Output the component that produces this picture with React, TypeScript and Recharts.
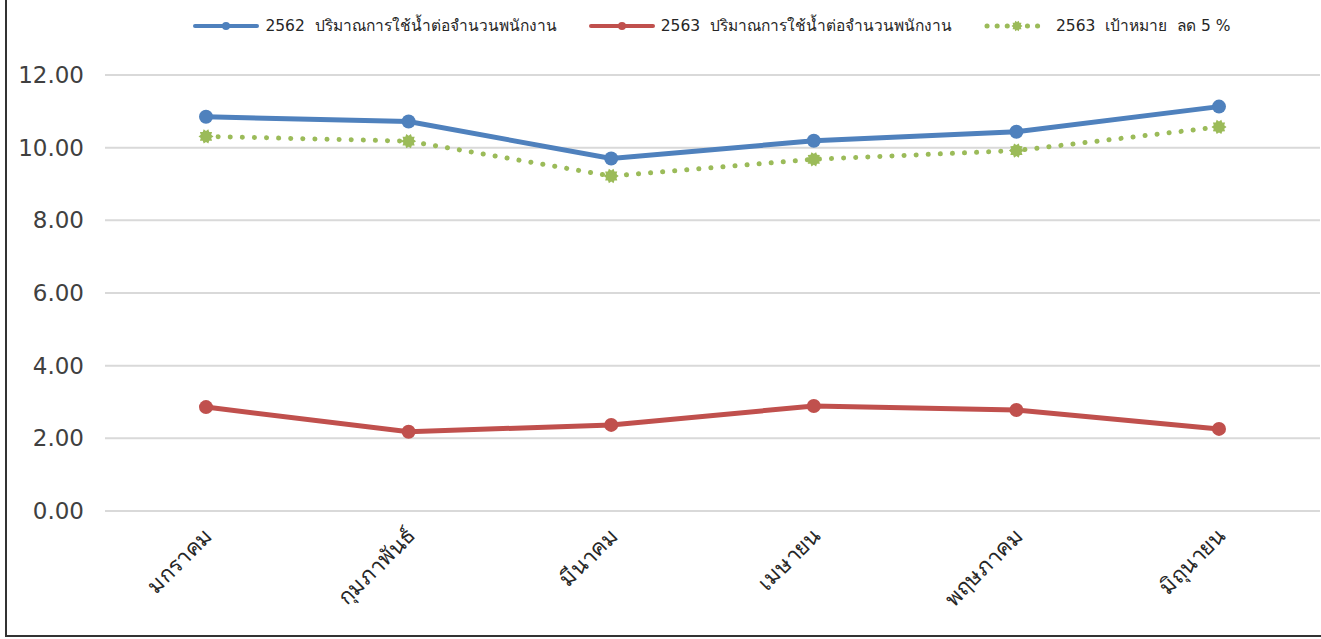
import React from 'react';
import {
    LineChart,
    Line,
    XAxis,
    YAxis,
    CartesianGrid,
} from 'recharts';

const MONTHS = ['มกราคม', 'กุมภาพันธ์', 'มีนาคม', 'เมษายน', 'พฤษภาคม', 'มิถุนายน'];
const USE_2562 = [10.85, 10.72, 9.7, 10.19, 10.44, 11.13];
const USE_2563 = [2.86, 2.18, 2.37, 2.89, 2.78, 2.26];
const TARGET_2563 = [10.31, 10.18, 9.22, 9.68, 9.92, 10.57];
const Y_TICKS = [0, 2, 4, 6, 8, 10, 12];

const NAME_2562 = '2562  ปริมาณการใช้น้ำต่อจำนวนพนักงาน';
const NAME_2563 = '2563  ปริมาณการใช้น้ำต่อจำนวนพนักงาน';
const NAME_TARGET = '2563  เป้าหมาย  ลด 5 %';

const BLUE = '#4f81bd';
const RED = '#c0504d';
const GREEN = '#9bbb59';
const FONT = "Tahoma, 'DejaVu Sans', sans-serif";

const data = MONTHS.map((m, i) => ({
    month: m,
    a: USE_2562[i],
    b: USE_2563[i],
    c: TARGET_2563[i],
}));

// ragged star marker for the target series
const starPoints = (cx: number, cy: number, r1: number, r2: number, n: number) => {
    const pts: string[] = [];
    for (let i = 0; i < n * 2; i++) {
        const r = i % 2 === 0 ? r1 : r2;
        const a = (Math.PI * i) / n;
        pts.push(`${cx + r * Math.cos(a)},${cy + r * Math.sin(a)}`);
    }
    return pts.join(' ');
};

const StarDot = (props: any) => {
    const { cx, cy } = props;
    if (cx == null || cy == null) return null;
    return <polygon points={starPoints(cx, cy, 7.5, 5.5, 10)} fill={GREEN} />;
};

const MonthTick = (props: any) => {
    const { x, y, payload } = props;
    return (
        <g transform={`translate(${x + 8},${y + 18})`}>
            <text
                transform="rotate(-45)"
                textAnchor="end"
                fill="#262626"
                fontSize={22}
                fontFamily={FONT}
            >
                {payload.value}
            </text>
        </g>
    );
};

const ValueTick = (props: any) => {
    const { x, y, payload } = props;
    return (
        <text
            x={x - 13}
            y={y + 8}
            textAnchor="end"
            fill="#404040"
            fontSize={23}
            fontFamily={FONT}
        >
            {Number(payload.value).toFixed(2)}
        </text>
    );
};

const LegendIcon = ({ color, dotted }: { color: string; dotted?: boolean }) => (
    <svg width={66} height={14} style={{ marginRight: 6 }}>
        {dotted ? (
            <>
                <line x1={3} y1={7} x2={63} y2={7} stroke={color} strokeWidth={5}
                    strokeDasharray="0.1 10" strokeLinecap="round" />
                <polygon points={starPoints(33, 7, 5.5, 4, 10)} fill={color} />
            </>
        ) : (
            <>
                <line x1={2} y1={7} x2={64} y2={7} stroke={color} strokeWidth={4}
                    strokeLinecap="round" />
                <circle cx={33} cy={7} r={4} fill={color} />
            </>
        )}
    </svg>
);

const LegendBox = () => (
    <div style={{
        position: 'absolute',
        top: 13,
        left: 105,
        width: 1214,
        display: 'flex',
        justifyContent: 'center',
        gap: 32,
        fontFamily: FONT,
        fontSize: 15.5,
        color: '#262626',
        whiteSpace: 'pre',
    }}>
        <div style={{ display: 'flex', alignItems: 'center' }}>
            <LegendIcon color={BLUE} />{NAME_2562}
        </div>
        <div style={{ display: 'flex', alignItems: 'center' }}>
            <LegendIcon color={RED} />{NAME_2563}
        </div>
        <div style={{ display: 'flex', alignItems: 'center' }}>
            <LegendIcon color={GREEN} dotted />{NAME_TARGET}
        </div>
    </div>
);

export default function App() {
    return (
        <div style={{ position: 'relative', width: 1321, height: 639, background: '#fff' }}>
            <style>{'body{margin:0;}'}</style>
            <div style={{
                position: 'absolute',
                left: 5,
                top: 0,
                width: 1316,
                height: 635,
                borderLeft: '2px solid #333',
                borderBottom: '2px solid #333',
            }} />
            <LineChart
                width={1321}
                height={639}
                data={data}
                margin={{ top: 75, right: 1, bottom: 0, left: 0 }}
            >
                <CartesianGrid vertical={false} stroke="#d9d9d9" strokeWidth={2} />
                <XAxis
                    dataKey="month"
                    axisLine={false}
                    tickLine={false}
                    height={128}
                    interval={0}
                    padding={{ left: 101, right: 101 }}
                    tick={<MonthTick />}
                />
                <YAxis
                    domain={[0, 12]}
                    ticks={Y_TICKS}
                    axisLine={false}
                    tickLine={false}
                    width={105}
                    tick={<ValueTick />}
                />
                <Line
                    dataKey="a"
                    name={NAME_2562}
                    stroke={BLUE}
                    strokeWidth={5}
                    dot={{ r: 7, fill: BLUE, stroke: 'none' }}
                    isAnimationActive={false}
                />
                <Line
                    dataKey="b"
                    name={NAME_2563}
                    stroke={RED}
                    strokeWidth={5}
                    dot={{ r: 7, fill: RED, stroke: 'none' }}
                    isAnimationActive={false}
                />
                <Line
                    dataKey="c"
                    name={NAME_TARGET}
                    stroke={GREEN}
                    strokeWidth={5}
                    strokeDasharray="0.1 12"
                    strokeLinecap="round"
                    dot={<StarDot />}
                    isAnimationActive={false}
                />
            </LineChart>
            <LegendBox />
        </div>
    );
}
